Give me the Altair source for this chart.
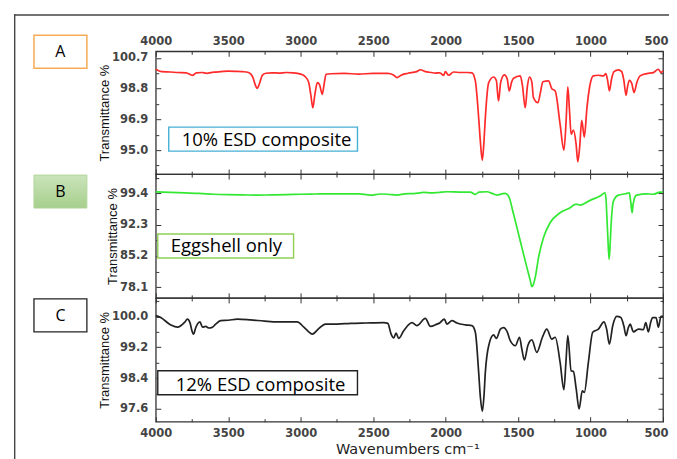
import altair as alt
import pandas as pd

# ---------------- data ----------------
WN_A = [4000, 3960, 3900, 3850, 3790, 3747, 3720, 3680, 3650, 3600, 3550, 3500, 3450, 3400,
        3360, 3330, 3310, 3300, 3285, 3265, 3240, 3200, 3150, 3100, 3050, 3000, 2970, 2945,
        2930, 2916, 2903, 2885, 2870, 2851, 2838, 2825, 2790, 2700, 2600, 2500, 2400, 2360,
        2335, 2310, 2260, 2200, 2174, 2140, 2100, 2070, 2040, 2013, 2002, 1979, 1945, 1900,
        1850, 1818, 1795, 1772, 1760, 1747, 1735, 1726, 1703, 1669, 1650, 1635, 1620, 1595,
        1575, 1561, 1545, 1531, 1485, 1470, 1451, 1435, 1421, 1405, 1394, 1363, 1345, 1329,
        1290, 1267, 1244, 1210, 1184, 1168, 1157, 1145, 1134, 1118, 1100, 1088, 1075, 1061,
        1043, 1025, 1003, 980, 946, 911, 895, 882, 870, 855, 838, 808, 785, 770, 755, 745,
        732, 715, 700, 680, 658, 612, 566, 532, 514, 500]
T_A = [100.00, 99.85, 99.83, 99.80, 99.78, 99.62, 99.78, 99.80, 99.75, 99.82, 99.85, 99.88, 99.87, 99.85,
       99.80, 99.50, 98.95, 98.82, 99.10, 99.62, 99.75, 99.78, 99.76, 99.80, 99.78, 99.70, 99.55, 99.20,
       98.40, 97.62, 98.40, 99.17, 99.05, 98.45, 99.10, 99.69, 99.72, 99.74, 99.70, 99.74, 99.74, 99.65,
       99.48, 99.62, 99.75, 99.85, 99.97, 99.85, 99.80, 99.76, 99.78, 99.62, 99.85, 99.63, 99.83, 99.80,
       99.80, 99.78, 99.28, 97.00, 95.50, 94.37, 95.60, 97.00, 99.17, 99.52, 99.30, 98.04, 99.20, 99.65,
       99.40, 98.66, 99.20, 99.44, 99.59, 99.00, 97.62, 99.00, 99.52, 99.20, 98.24, 97.93, 98.60, 99.23,
       99.28, 98.80, 98.66, 96.60, 95.00, 96.90, 98.91, 97.40, 95.98, 96.24, 95.40, 94.28, 95.20, 96.84,
       95.81, 97.60, 99.07, 99.59, 99.63, 99.59, 99.73, 99.30, 98.66, 99.40, 99.85, 99.96, 99.85, 99.30, 98.39, 98.90,
       99.32, 99.10, 98.56, 99.20, 99.59, 99.73, 99.79, 100.00, 99.79, 99.90]

WN_B = [4000, 3900, 3800, 3700, 3600, 3500, 3400, 3300, 3200, 3100, 3000, 2900, 2800, 2700,
        2600, 2519, 2450, 2400, 2335, 2280, 2220, 2151, 2100, 2050, 1990, 1900, 1830, 1795,
        1770, 1715, 1680, 1646, 1610, 1589, 1566, 1531, 1485, 1439, 1415, 1405, 1395, 1382,
        1359, 1325, 1279, 1210, 1141, 1106, 1090, 1072, 1003, 934, 900, 892, 888, 880, 872,
        866, 858, 842, 808, 760, 732, 727, 722, 713, 706, 704, 695, 681, 612, 566, 520, 500]
T_B = [99.76, 99.60, 99.50, 99.40, 99.20, 99.10, 99.05, 99.00, 99.05, 99.10, 99.20, 99.25, 99.30, 99.30,
       99.30, 99.00, 99.25, 99.20, 99.00, 99.30, 99.35, 99.60, 99.50, 99.60, 99.76, 99.70, 99.70, 99.15,
       99.70, 99.76, 99.40, 99.00, 99.30, 99.40, 98.80, 94.64, 88.59, 82.54, 79.50, 78.24, 78.70, 80.27,
       84.81, 89.34, 92.74, 95.00, 96.14, 96.90, 96.90, 96.75, 97.81, 98.79, 99.54, 97.50, 94.64, 89.00, 84.44,
       87.00, 92.38, 97.65, 99.00, 99.30, 99.54, 98.50, 97.28, 95.00, 97.00, 97.28, 98.50, 99.00, 99.30, 99.20, 99.70, 99.70]

WN_C = [4000, 3966, 3897, 3850, 3800, 3782, 3764, 3752, 3740, 3725, 3713, 3695, 3678, 3656,
        3633, 3609, 3587, 3552, 3500, 3437, 3345, 3250, 3161, 3024, 2978, 2950, 2920, 2874,
        2829, 2750, 2656, 2550, 2427, 2399, 2376, 2358, 2342, 2324, 2289, 2232, 2198, 2140,
        2105, 2060, 2041, 2009, 1991, 1956, 1922, 1864, 1818, 1795, 1772, 1760, 1747, 1736,
        1726, 1703, 1669, 1650, 1622, 1600, 1575, 1554, 1519, 1490, 1474, 1456, 1433, 1405,
        1371, 1332, 1302, 1267, 1244, 1210, 1184, 1170, 1157, 1134, 1118, 1099, 1079, 1057,
        1043, 1015, 985, 946, 907, 889, 870, 847, 819, 791, 770, 755, 740, 727, 704, 670,
        635, 619, 601, 585, 571, 548, 532, 514, 500]
T_C = [100.02, 99.97, 99.78, 99.72, 99.85, 99.93, 99.84, 99.65, 99.54, 99.70, 99.80, 99.86, 99.72, 99.74,
       99.70, 99.72, 99.80, 99.89, 99.90, 99.93, 99.91, 99.88, 99.86, 99.86, 99.72, 99.62, 99.54, 99.69,
       99.80, 99.80, 99.82, 99.83, 99.84, 99.82, 99.54, 99.44, 99.57, 99.43, 99.63, 99.84, 99.76, 99.95,
       99.74, 99.80, 99.83, 99.93, 99.80, 99.89, 99.83, 99.78, 99.76, 99.59, 98.55, 97.90, 97.54, 97.90,
       98.55, 99.24, 99.52, 99.43, 99.67, 99.71, 99.60, 99.37, 99.24, 99.46, 99.15, 98.87, 99.24, 99.39,
       99.07, 99.46, 99.67, 99.41, 99.46, 98.81, 98.10, 98.80, 99.50, 98.59, 98.57, 98.12, 97.60, 98.07,
       98.03, 98.81, 99.59, 99.67, 99.86, 99.67, 99.28, 99.76, 100.00, 99.97, 99.75, 99.50, 99.70, 99.80, 99.60, 99.67,
       99.66, 99.84, 99.60, 99.85, 99.97, 99.97, 99.72, 100.00, 100.00]

X_MAJOR = [500, 1000, 1500, 2000, 2500, 3000, 3500, 4000]
X_MINOR = [750, 1250, 1750, 2250, 2750, 3250, 3750]

YA_MAJOR = [95.0, 96.9, 98.8, 100.7]
YA_MINOR = [94.05, 95.95, 97.85, 99.75]
YB_MAJOR = [78.1, 85.2, 92.3, 99.4]
YB_MINOR = [81.65, 88.75, 95.85, 102.95]
YC_MAJOR = [97.6, 98.4, 99.2, 100.0]
YC_MINOR = [98.0, 98.8, 99.6, 100.4]

PANEL_LETTERS = ["A", "B", "C"]
PANEL_NAMES = ["10% ESD composite", "Eggshell only", "12% ESD composite"]

W = 508
LABEL_FONT = "DejaVu Sans"
EDGE_LABEL_SHIFT = {"condition": {"test": "datum.value === 500", "value": -7}, "value": 0}


def label_box(letter, style):
    d = pd.DataFrame({"s": [letter]})
    if style == "A":
        rect = alt.Chart(d).mark_rect(fill="white", stroke="#f5ac55", strokeWidth=1.5)
    elif style == "B":
        grad = alt.LinearGradient(gradient="linear",
                                  stops=[alt.GradientStop(color="#cbe4bb", offset=0),
                                         alt.GradientStop(color="#a6cf8b", offset=1)],
                                  x1=0, x2=0, y1=0, y2=1)
        rect = alt.Chart(d).mark_rect(fill=grad, stroke="#b2d69b", strokeWidth=1)
    else:
        rect = alt.Chart(d).mark_rect(fill="white", stroke="#222", strokeWidth=1.3)
    top = -16 if style == "A" else 1
    rect = rect.encode(x=alt.value(-122), x2=alt.value(-69), y=alt.value(top), y2=alt.value(top + 33))
    txt = alt.Chart(d).mark_text(font="Open Sans", fontSize=16, color="black",
                                 align="center", baseline="middle").encode(
        x=alt.value(-95.5), y=alt.value(top + 17), text="s:N")
    return [rect, txt]


def name_box(name, stroke, x0, x1, y0, y1, tx, ty):
    d = pd.DataFrame({"s": [name]})
    rect = alt.Chart(d).mark_rect(fill="white", stroke=stroke, strokeWidth=1.4).encode(
        x=alt.value(x0), x2=alt.value(x1), y=alt.value(y0), y2=alt.value(y1))
    txt = alt.Chart(d).mark_text(font="Open Sans", fontSize=18.5, color="black",
                                 align="left", baseline="alphabetic").encode(
        x=alt.value(tx), y=alt.value(ty), text="s:N")
    return [rect, txt]


def panel(wn, tr, color, ydom, ymaj, ymin, h, xlab, extras):
    df = pd.DataFrame({"w": wn, "t": tr})
    xs = alt.Scale(domain=[500, 4000], reverse=True, nice=False, zero=False)
    ys = alt.Scale(domain=ydom, nice=False, zero=False)
    base = alt.Chart(df)

    if xlab == "top":
        xaxis = alt.Axis(orient="top", values=X_MAJOR, format="d", ticks=False, tickSize=0,
                         labelPadding=5, domain=False, grid=False, title=None,
                         labelFlush=False, labelOverlap=False, labelOffset=EDGE_LABEL_SHIFT)
    elif xlab == "bottom":
        xaxis = alt.Axis(orient="bottom", values=X_MAJOR, format="d", ticks=False, tickSize=0,
                         labelPadding=6, domain=False, grid=False,
                         title="Wavenumbers cm\u207b\u00b9",
                         titleFont="DejaVu Sans", titleFontSize=14.5, titleColor="#222",
                         titleBaseline="alphabetic", titleY=32, titleX=252,
                         titleAlign="center", titleAnchor="middle",
                         labelFlush=False, labelOverlap=False, labelOffset=EDGE_LABEL_SHIFT)
    else:
        xaxis = None

    yaxis = alt.Axis(orient="left", values=ymaj, format=".1f", ticks=False, tickSize=0,
                     labelPadding=8, domain=False, grid=False, title="Transmittance %",
                     titlePadding=0, labelFlush=False, labelOverlap=False)

    line = base.mark_line(color=color, strokeWidth=1.7, interpolate="monotone").encode(
        x=alt.X("w:Q", scale=xs, axis=xaxis),
        y=alt.Y("t:Q", scale=ys, axis=yaxis),
        order=alt.Order("w:Q", sort="descending"),
    )

    def tick_layer(xorient, yorient, xvals, yvals, size):
        return base.mark_point(opacity=0, size=1).encode(
            x=alt.X("w:Q", scale=xs,
                    axis=alt.Axis(orient=xorient, offset=-h, values=xvals, labels=False,
                                  domain=False, grid=False, ticks=True, tickSize=size,
                                  tickColor="#333", tickWidth=1, title=None)),
            y=alt.Y("t:Q", scale=ys,
                    axis=alt.Axis(orient=yorient, offset=-W, values=yvals, labels=False,
                                  domain=False, grid=False, ticks=True, tickSize=size,
                                  tickColor="#333", tickWidth=1, title=None)),
        )

    layers = [line,
              tick_layer("top", "right", X_MAJOR, ymaj, 5),
              tick_layer("top", "right", X_MINOR, ymin, 3),
              tick_layer("bottom", "left", X_MAJOR, ymaj, 5),
              tick_layer("bottom", "left", X_MINOR, ymin, 3)] + extras
    return alt.layer(*layers).resolve_axis(x="independent", y="independent").properties(
        width=W, height=h)


# outer frame of the figure (top and left edges; it runs on past the picture)
frame_d = pd.DataFrame({"k": [0]})
frame_h = alt.Chart(frame_d).mark_rect(color="#444").encode(
    x=alt.value(-142), x2=alt.value(514), y=alt.value(-37), y2=alt.value(-35.6))
frame_v = alt.Chart(frame_d).mark_rect(color="#444").encode(
    x=alt.value(-142), x2=alt.value(-140.6), y=alt.value(-37), y2=alt.value(450))

pA = panel(WN_A, T_A, "#ff2a2a", [93.52, 101.11], YA_MAJOR, YA_MINOR, 123, "top",
           [frame_h, frame_v] + label_box(PANEL_LETTERS[0], "A")
           + name_box(PANEL_NAMES[0], "#45b0d5", 13, 202, 76, 100, 26, 95))
pB = panel(WN_B, T_B, "#33e833", [75.68, 103.77], YB_MAJOR, YB_MINOR, 124, None,
           label_box(PANEL_LETTERS[1], "B")
           + name_box(PANEL_NAMES[1], "#8fcf55", 2, 138, 60, 84, 15, 78.5))
pC = panel(WN_C, T_C, "#222222", [97.27, 100.48], YC_MAJOR, YC_MINOR, 124, "bottom",
           label_box(PANEL_LETTERS[2], "C")
           + name_box(PANEL_NAMES[2], "#222", 2, 202, 73, 97, 20, 93))

chart = alt.vconcat(pA, pB, pC, spacing=0, bounds="flush").properties(
    padding={"left": 5, "top": 5, "right": -1, "bottom": -40},
    background="white",
).configure_view(stroke="#333", strokeWidth=1.3).configure_axis(
    labelFont=LABEL_FONT, labelFontSize=11.5, labelFontWeight="bold", labelColor="#444",
    titleFont="Liberation Sans", titleFontSize=13, titleFontWeight="normal", titleColor="#111",
)

chart.save("out.html", embed_options={"renderer": "svg", "actions": False})
